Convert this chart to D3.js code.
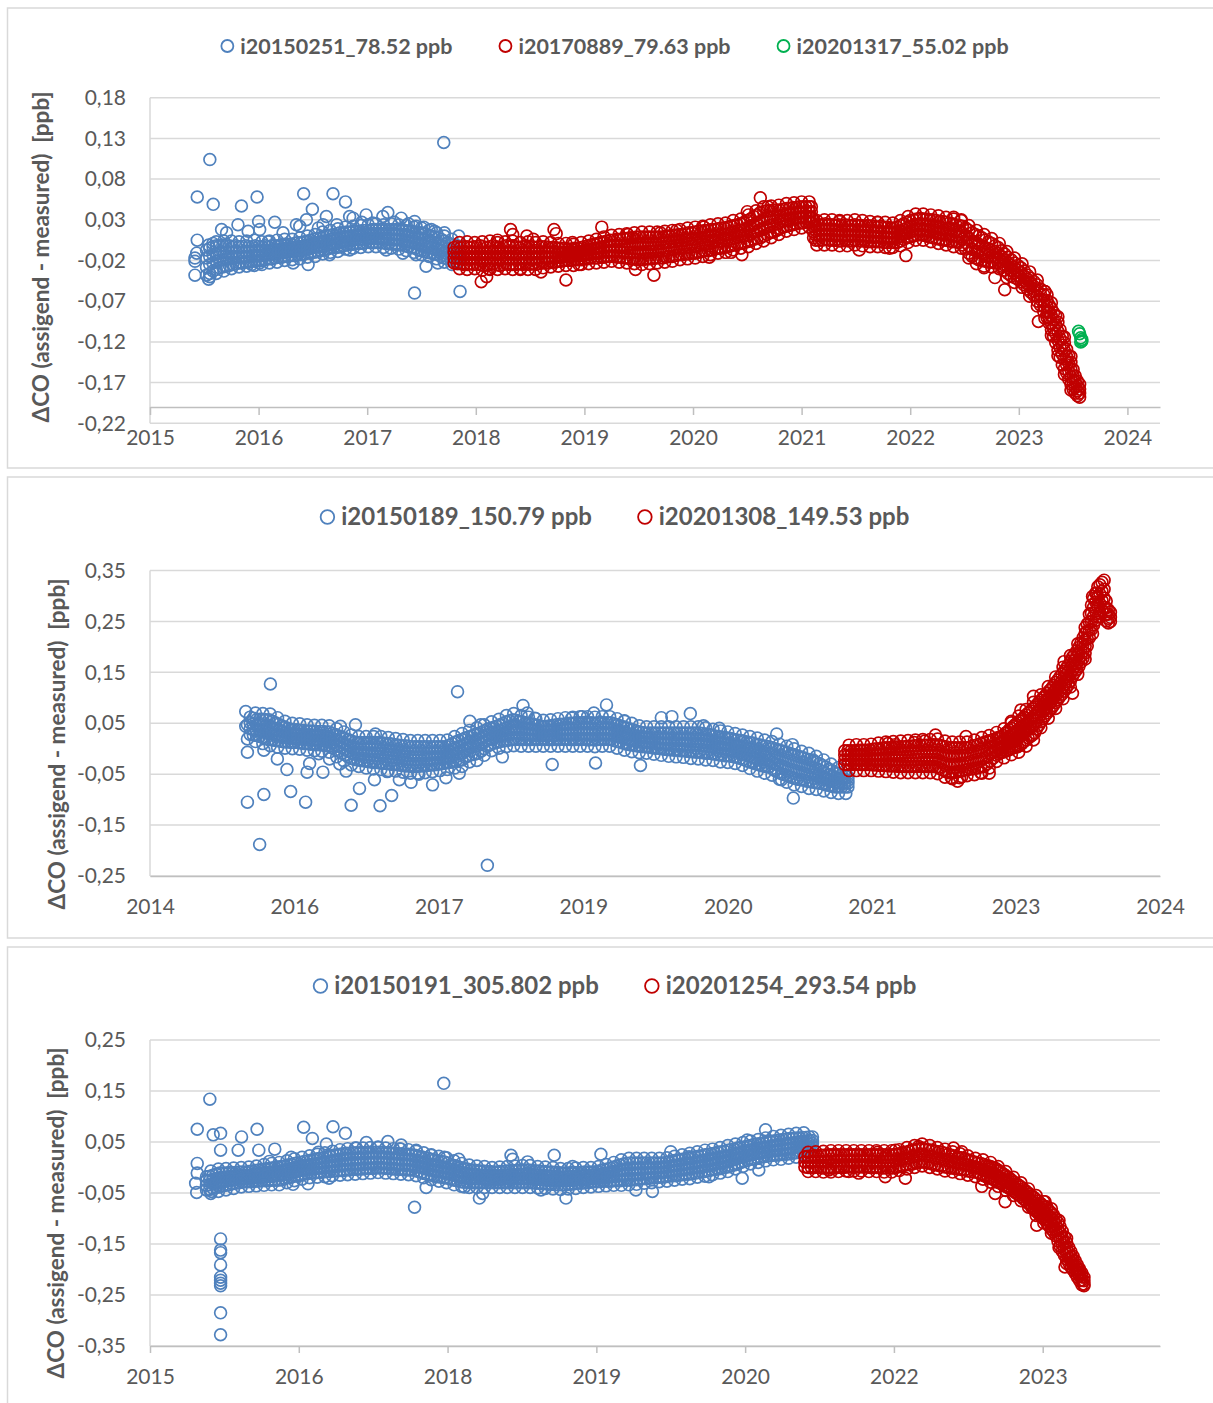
<!DOCTYPE html>
<html><head><meta charset="utf-8">
<script src="https://cdn.jsdelivr.net/npm/d3@7"></script>
<style>body{margin:0;background:#fff}svg{display:block}</style>
</head><body><svg id="c" width="1213" height="1403"></svg>
<script>
const FONT = "Lato, 'Open Sans', sans-serif";
const yTitle = "ΔCO (assigend - measured)  [ppb]";
// Rows / Halo: [decimal year, measured values of that date ...]; Out: single [decimal year, value] readings

// ---------- Panel 1 ----------
const p1Names = ["i20150251_78.52 ppb", "i20170889_79.63 ppb", "i20201317_55.02 ppb"];
const p1XTicks = [2015, 2016, 2017, 2018, 2019, 2020, 2021, 2022, 2023, 2024];
const p1XLabels = ["2015","2016","2017","2018","2019","2020","2021","2022","2023","2024"];
const p1YTicks = [0.18, 0.13, 0.08, 0.03, -0.02, -0.07, -0.12, -0.17, -0.22];
const p1YLabels = ["0,18","0,13","0,08","0,03","-0,02","-0,07","-0,12","-0,17","-0,22"];
const p1AxisCross = -0.2;
const p1BlueRows = [
[2015.52,-.007,-.017,-.028,-.038],[2015.55,-.005,-.015,-.025,-.036],[2015.58,-.003,-.013,-.023,-.033],[2015.61,-.002,-.012,-.021,-.031],
[2015.64,-.002,-.011,-.020,-.029],[2015.67,-.001,-.010,-.019,-.028],[2015.70,-.002,-.010,-.018,-.027],[2015.73,-.002,-.010,-.018,-.026],
[2015.76,-.003,-.010,-.017,-.025],[2015.79,-.002,-.009,-.016,-.024],[2015.82,-.003,-.010,-.016,-.023],[2015.85,-.003,-.010,-.016,-.023],
[2015.88,-.002,-.009,-.015,-.022],[2015.91,-.003,-.009,-.015,-.022],[2015.94,-.003,-.009,-.015,-.021],[2015.97,-.002,-.008,-.014,-.021],
[2016.00,-.003,-.009,-.014,-.020],[2016.03,-.003,-.008,-.014,-.020],[2016.06,-.002,-.008,-.013,-.019],[2016.09,-.003,-.008,-.013,-.018],
[2016.12,-.002,-.007,-.012,-.018],[2016.15,-.002,-.007,-.012,-.017],[2016.18,-.002,-.007,-.011,-.016],[2016.21,-.001,-.006,-.010,-.016],
[2016.24,-.001,-.005,-.010,-.015],[2016.27,.000,-.005,-.009,-.015],[2016.30,.000,-.004,-.009,-.014],[2016.33,.001,-.004,-.008,-.014],
[2016.36,.002,-.003,-.008,-.013],[2016.39,.002,-.003,-.008,-.013],[2016.42,.003,-.002,-.007,-.012],[2016.45,.004,-.001,-.006,-.011],
[2016.48,.005,.000,-.005,-.010],[2016.51,.006,.001,-.004,-.010],[2016.54,.007,.002,-.003,-.009],[2016.57,.008,.003,-.003,-.008],
[2016.60,.009,.004,-.002,-.007],[2016.63,.010,.005,-.001,-.006],[2016.66,.011,.006,.000,-.005],[2016.69,.012,.007,.000,-.004],
[2016.72,.013,.007,.001,-.004],[2016.75,.014,.008,.002,-.003],[2016.78,.014,.009,.003,-.002],[2016.81,.015,.009,.004,-.001],
[2016.84,.015,.010,.004,.000],[2016.87,.016,.010,.005,.000],[2016.90,.016,.011,.006,.001],[2016.93,.016,.011,.006,.001],
[2016.96,.017,.012,.006,.001],[2016.99,.017,.012,.007,.002],[2017.02,.017,.012,.007,.002],[2017.05,.018,.013,.007,.002],
[2017.08,.018,.013,.007,.002],[2017.11,.018,.013,.007,.002],[2017.14,.018,.013,.007,.002],[2017.17,.018,.013,.007,.001],
[2017.20,.018,.012,.007,.001],[2017.23,.018,.012,.006,.000],[2017.26,.018,.012,.006,.000],[2017.29,.018,.012,.006,-.001],
[2017.32,.018,.012,.005,-.001],[2017.35,.017,.011,.004,-.002],[2017.38,.016,.010,.003,-.003],[2017.41,.016,.009,.002,-.004],
[2017.44,.015,.008,.001,-.005],[2017.47,.014,.007,.000,-.007],[2017.50,.014,.007,-.001,-.008],[2017.53,.013,.006,-.002,-.009],
[2017.56,.011,.004,-.003,-.010],[2017.59,.010,.003,-.004,-.011],[2017.62,.009,.002,-.006,-.012],[2017.65,.008,.000,-.007,-.013],
[2017.68,.006,-.001,-.008,-.015],[2017.71,.004,-.003,-.010,-.017],[2017.74,.002,-.005,-.012,-.018],[2017.77,.000,-.007,-.013,-.019],
[2017.80,-.001,-.008,-.014,-.021],[2017.83,-.002,-.009,-.015,-.022]
];
const p1BlueHalo = [
[2015.54,-.001,-.043],[2015.61,.003,-.036],[2015.68,.004,-.033],[2015.75,.004,-.030],[2015.82,.003,-.028],[2015.89,.004,-.027],
[2015.96,.005,-.026],[2016.03,.003,-.025],[2016.10,.004,-.023],[2016.17,.005,-.022],[2016.24,.006,-.020],[2016.31,.006,-.019],
[2016.38,.008,-.018],[2016.45,.010,-.016],[2016.52,.012,-.015],[2016.59,.015,-.012],[2016.66,.017,-.010],[2016.73,.019,-.009],
[2016.80,.021,-.006],[2016.87,.022,-.005],[2016.94,.023,-.004],[2017.01,.024,-.003],[2017.08,.025,-.003],[2017.15,.024,-.004],
[2017.22,.025,-.005],[2017.29,.024,-.006],[2017.36,.023,-.008],[2017.43,.021,-.010],[2017.50,.020,-.013],[2017.57,.017,-.015],
[2017.64,.014,-.018],[2017.71,.010,-.022],[2017.78,.006,-.025]
];
const p1BlueOut = [
[2015.435,.058],[2015.551,.104],[2015.582,.049],[2015.435,.005],[2015.43,-.011],[2015.414,-.017],[2015.414,-.021],[2015.414,-.038],
[2015.551,-.040],[2015.659,.018],[2015.705,.014],[2015.58,.001],[2015.81,.024],[2015.842,.047],[2015.986,.058],[2016.0,.028],
[2016.01,.018],[2015.904,.016],[2016.149,.027],[2016.225,.014],[2016.088,.003],[2015.935,-.025],[2016.01,-.023],[2016.318,-.023],
[2016.456,-.025],[2016.415,.062],[2016.495,.043],[2016.348,.024],[2016.44,.030],[2016.379,.022],[2016.685,.062],[2016.80,.052],
[2016.624,.034],[2016.593,.024],[2016.654,-.013],[2016.838,.034],[2016.87,.032],[2016.99,.036],[2017.144,.034],[2017.19,.039],
[2017.313,.032],[2017.436,.028],[2017.45,.022],[2017.59,.018],[2017.711,.014],[2017.843,.010],[2016.838,-.007],[2017.175,-.007],
[2017.328,-.011],[2017.45,-.013],[2017.542,-.027],[2017.65,-.023],[2017.436,-.060],[2017.855,-.058],[2017.705,.125],
[2016.55,.020],[2016.72,.024],[2016.95,.027],[2017.05,.026],[2017.25,.027],[2017.38,.025],[2017.52,.021],[2017.62,.016]
];
const p1RedRows = [
[2017.80,-.004,-.010,-.017,-.023],[2017.83,-.003,-.010,-.017,-.024],[2017.86,-.004,-.011,-.018,-.024],[2017.89,-.003,-.010,-.017,-.025],
[2017.92,-.003,-.010,-.018,-.025],[2017.95,-.004,-.011,-.018,-.024],[2017.98,-.003,-.010,-.017,-.025],[2018.01,-.003,-.010,-.018,-.025],
[2018.04,-.002,-.010,-.017,-.025],[2018.07,-.003,-.011,-.018,-.026],[2018.10,-.004,-.011,-.018,-.025],[2018.13,-.003,-.010,-.018,-.025],
[2018.16,-.002,-.010,-.017,-.024],[2018.19,-.003,-.011,-.018,-.025],[2018.22,-.004,-.011,-.019,-.026],[2018.25,-.003,-.010,-.018,-.025],
[2018.28,-.002,-.010,-.017,-.024],[2018.31,-.003,-.010,-.018,-.025],[2018.34,-.002,-.010,-.017,-.025],[2018.37,-.003,-.011,-.018,-.025],
[2018.40,-.004,-.011,-.018,-.024],[2018.43,-.003,-.010,-.017,-.025],[2018.46,-.002,-.010,-.017,-.024],[2018.49,-.003,-.010,-.018,-.025],
[2018.52,-.003,-.010,-.017,-.024],[2018.55,-.004,-.011,-.018,-.025],[2018.58,-.003,-.010,-.017,-.024],[2018.61,-.003,-.010,-.017,-.023],
[2018.64,-.003,-.010,-.016,-.023],[2018.67,-.004,-.010,-.017,-.023],[2018.70,-.004,-.010,-.016,-.022],[2018.73,-.004,-.010,-.016,-.022],
[2018.76,-.005,-.010,-.016,-.021],[2018.79,-.005,-.011,-.016,-.021],[2018.82,-.005,-.010,-.015,-.020],[2018.85,-.006,-.011,-.015,-.020],
[2018.88,-.006,-.010,-.015,-.020],[2018.91,-.005,-.010,-.014,-.019],[2018.94,-.005,-.010,-.014,-.019],[2018.97,-.004,-.009,-.014,-.019],
[2019.00,-.003,-.008,-.013,-.018],[2019.03,-.002,-.007,-.012,-.018],[2019.06,-.001,-.006,-.012,-.017],[2019.09,.000,-.005,-.011,-.017],
[2019.12,.001,-.005,-.011,-.017],[2019.15,.002,-.004,-.010,-.016],[2019.18,.003,-.003,-.009,-.016],[2019.21,.004,-.002,-.009,-.015],
[2019.24,.005,-.002,-.008,-.015],[2019.27,.005,-.002,-.009,-.015],[2019.30,.006,-.002,-.009,-.016],[2019.33,.006,-.002,-.009,-.016],
[2019.36,.007,-.002,-.010,-.017],[2019.39,.007,-.002,-.010,-.017],[2019.42,.008,-.001,-.010,-.018],[2019.45,.008,-.001,-.010,-.018],
[2019.48,.009,.000,-.010,-.019],[2019.51,.009,.000,-.010,-.019],[2019.54,.009,.000,-.010,-.019],[2019.57,.009,.000,-.009,-.018],
[2019.60,.009,.000,-.009,-.018],[2019.63,.009,.000,-.009,-.018],[2019.66,.009,.000,-.008,-.017],[2019.69,.009,.001,-.008,-.017],
[2019.72,.009,.001,-.008,-.017],[2019.75,.010,.002,-.007,-.016],[2019.78,.010,.002,-.006,-.015],[2019.81,.011,.003,-.006,-.015],
[2019.84,.011,.003,-.005,-.014],[2019.87,.012,.004,-.005,-.013],[2019.90,.012,.004,-.004,-.013],[2019.93,.013,.005,-.004,-.012],
[2019.96,.014,.006,-.003,-.012],[2019.99,.014,.006,-.002,-.011],[2020.02,.015,.006,-.002,-.011],[2020.05,.016,.007,-.001,-.010],
[2020.08,.016,.008,.000,-.009],[2020.11,.017,.009,.000,-.008],[2020.14,.017,.009,.001,-.008],[2020.17,.018,.010,.002,-.007],
[2020.20,.018,.010,.003,-.006],[2020.23,.019,.011,.003,-.005],[2020.26,.020,.012,.004,-.005],[2020.29,.020,.012,.005,-.004],
[2020.32,.021,.013,.006,-.003],[2020.35,.022,.014,.007,-.002],[2020.38,.023,.015,.008,-.001],[2020.41,.024,.016,.009,.000],
[2020.44,.025,.017,.010,.001],[2020.47,.027,.018,.010,.002],[2020.50,.029,.020,.011,.003],[2020.53,.031,.022,.012,.004],
[2020.56,.034,.024,.015,.006],[2020.59,.036,.026,.016,.007],[2020.62,.039,.028,.018,.008],[2020.65,.040,.030,.020,.010],
[2020.68,.041,.031,.021,.012],[2020.71,.041,.032,.023,.014],[2020.74,.042,.033,.024,.015],[2020.77,.042,.034,.025,.017],
[2020.80,.042,.035,.027,.019],[2020.83,.043,.036,.028,.021],[2020.86,.044,.037,.029,.022],[2020.89,.044,.037,.030,.023],
[2020.92,.045,.038,.031,.024],[2020.95,.045,.039,.032,.025],[2020.98,.046,.039,.033,.026],[2021.01,.046,.039,.033,.026],
[2021.04,.046,.040,.033,.027],[2021.07,.046,.040,.034,.027],[2021.09,.046,.040,.033,.027],[2021.11,.030,.022,.015,.008],
[2021.13,.023,.017,.011,.005],[2021.16,.024,.018,.011,.005],[2021.19,.024,.018,.011,.005],[2021.22,.025,.018,.012,.006],
[2021.25,.024,.018,.011,.005],[2021.28,.024,.018,.011,.005],[2021.31,.023,.017,.011,.005],[2021.34,.024,.017,.011,.004],
[2021.37,.023,.017,.010,.004],[2021.40,.024,.017,.011,.005],[2021.43,.023,.017,.010,.004],[2021.46,.023,.017,.010,.004],
[2021.49,.024,.017,.011,.005],[2021.52,.023,.016,.010,.004],[2021.55,.023,.016,.010,.004],[2021.58,.022,.016,.010,.004],
[2021.61,.023,.016,.010,.003],[2021.64,.022,.016,.009,.003],[2021.67,.022,.015,.009,.003],[2021.70,.021,.015,.009,.003],
[2021.73,.022,.015,.009,.003],[2021.76,.021,.015,.008,.002],[2021.79,.021,.014,.008,.002],[2021.82,.020,.014,.008,.002],
[2021.85,.020,.014,.008,.002],[2021.88,.021,.015,.008,.002],[2021.91,.023,.016,.010,.004],[2021.94,.025,.018,.012,.006],
[2021.97,.027,.020,.014,.008],[2022.00,.029,.022,.015,.009],[2022.03,.030,.023,.017,.010],[2022.06,.031,.024,.018,.011],
[2022.09,.032,.025,.018,.012],[2022.12,.031,.024,.017,.011],[2022.15,.031,.024,.017,.010],[2022.18,.030,.023,.016,.009],
[2022.21,.030,.022,.015,.008],[2022.24,.029,.022,.014,.007],[2022.27,.028,.021,.013,.006],[2022.30,.028,.020,.013,.005],
[2022.33,.027,.019,.012,.005],[2022.36,.026,.019,.011,.004],[2022.39,.025,.018,.010,.003],[2022.42,.024,.017,.010,.003],
[2022.45,.023,.016,.009,.002],[2022.48,.022,.014,.006,-.001],[2022.51,.020,.011,.002,-.006],[2022.54,.017,.008,-.002,-.011],
[2022.57,.014,.004,-.006,-.015],[2022.60,.012,.002,-.008,-.017],[2022.63,.010,.000,-.009,-.019],[2022.66,.008,-.002,-.011,-.020],
[2022.69,.005,-.004,-.012,-.021],[2022.72,.003,-.006,-.014,-.022],[2022.75,.001,-.007,-.015,-.022],[2022.78,-.002,-.009,-.016,-.023],
[2022.81,-.004,-.011,-.017,-.023],[2022.84,-.008,-.015,-.021,-.027],[2022.87,-.012,-.019,-.026,-.032],[2022.90,-.016,-.023,-.029,-.036],
[2022.93,-.019,-.026,-.032,-.039],[2022.96,-.023,-.029,-.035,-.041],[2022.99,-.026,-.032,-.038,-.043],[2023.02,-.029,-.035,-.041,-.046],
[2023.05,-.033,-.039,-.045,-.050],[2023.08,-.038,-.043,-.049,-.055],[2023.11,-.042,-.047,-.053,-.059],[2023.14,-.046,-.052,-.058,-.063],
[2023.17,-.050,-.057,-.064,-.070],[2023.20,-.055,-.062,-.068,-.075],[2023.23,-.062,-.069,-.076,-.083],[2023.26,-.069,-.076,-.083,-.090],
[2023.28,-.075,-.083,-.090,-.097],[2023.30,-.079,-.088,-.097,-.105],[2023.32,-.084,-.093,-.103,-.113],[2023.34,-.088,-.099,-.110,-.121],
[2023.36,-.096,-.107,-.118,-.130],[2023.38,-.105,-.116,-.127,-.139],[2023.40,-.113,-.124,-.135,-.148],[2023.42,-.121,-.131,-.141,-.153],
[2023.44,-.129,-.138,-.148,-.158],[2023.46,-.137,-.146,-.156,-.166],[2023.48,-.145,-.154,-.163,-.172],[2023.50,-.154,-.162,-.170,-.178],
[2023.52,-.162,-.169,-.176,-.183],[2023.54,-.168,-.174,-.180,-.186],[2023.56,-.172,-.178,-.183,-.188]
];
const p1RedHalo = [
[2017.85,.002,-.030],[2017.92,.003,-.031],[2017.99,.002,-.030],[2018.06,.003,-.032],[2018.13,.004,-.031],[2018.20,.002,-.031],
[2018.27,.003,-.030],[2018.34,.004,-.031],[2018.41,.002,-.030],[2018.48,.003,-.031],[2018.55,.002,-.031],[2018.62,.003,-.029],
[2018.69,.002,-.028],[2018.76,.001,-.027],[2018.83,.001,-.026],[2018.90,.000,-.026],[2018.97,.002,-.025],[2019.04,.004,-.024],
[2019.11,.006,-.023],[2019.18,.009,-.022],[2019.25,.011,-.021],[2019.32,.012,-.022],[2019.39,.013,-.023],[2019.46,.014,-.024],
[2019.53,.015,-.025],[2019.60,.015,-.024],[2019.67,.015,-.023],[2019.74,.016,-.022],[2019.81,.017,-.021],[2019.88,.018,-.019],
[2019.95,.020,-.018],[2020.02,.021,-.017],[2020.09,.022,-.015],[2020.16,.024,-.013],[2020.23,.025,-.011],[2020.30,.026,-.010],
[2020.37,.029,-.007],[2020.44,.031,-.005],[2020.51,.036,-.003],[2020.58,.041,.001],[2020.65,.046,.004],[2020.72,.047,.008],
[2020.79,.048,.012],[2020.86,.050,.016],[2020.93,.051,.018],[2021.00,.052,.020],[2021.07,.052,.021],[2021.14,.029,-.001],
[2021.21,.030,-.001],[2021.28,.030,-.001],[2021.35,.029,-.002],[2021.42,.029,-.002],[2021.49,.030,-.001],[2021.56,.029,-.002],
[2021.63,.028,-.003],[2021.70,.027,-.003],[2021.77,.027,-.004],[2021.84,.026,-.004],[2021.91,.029,-.002],[2021.98,.034,.002],
[2022.05,.037,.005],[2022.12,.037,.005],[2022.19,.036,.003],[2022.26,.035,.001],[2022.33,.033,-.001],[2022.40,.031,-.003],
[2022.47,.029,-.005],[2022.54,.023,-.017],[2022.61,.017,-.024],[2022.68,.012,-.027],[2022.75,.007,-.028],[2022.82,.001,-.030],
[2022.89,-.009,-.041],[2022.96,-.017,-.047],[2023.03,-.024,-.053],[2023.10,-.034,-.064],[2023.17,-.044,-.076],[2023.24,-.058,-.091],
[2023.30,-.072,-.112],[2023.36,-.089,-.137],[2023.42,-.114,-.160],[2023.48,-.138,-.179]
];
const p1RedOut = [
[2018.32,.018],[2018.34,.012],[2018.47,.010],[2018.72,.018],[2018.74,.013],[2018.89,.002],[2019.16,.021],[2018.05,-.046],
[2018.10,-.040],[2018.60,-.034],[2018.83,-.044],[2019.47,-.031],[2019.64,-.038],[2020.45,-.013],[2020.62,.057],[2020.50,.040],
[2020.15,-.016],[2020.69,.046],[2021.96,-.014],[2022.47,.030],[2022.40,.033],[2022.68,-.029],[2022.78,-.041],[2022.87,-.056],
[2023.18,-.095],[2023.24,-.058],[2023.26,-.062],[2021.53,-.007],[2021.81,-.005],[2018.20,.005],[2018.53,.006],[2019.85,.017],
[2020.35,-.010],[2018.12,-.030],[2018.41,-.031],[2018.95,-.025],[2019.40,.012],[2019.70,.014],[2020.10,.021],[2021.35,.028],[2021.70,.027]
];
const p1Green = [[2023.55,-.107],[2023.57,-.115],[2023.58,-.117],[2023.57,-.120],[2023.56,-.110],[2023.58,-.119]];

// ---------- Panel 2 ----------
const p2Names = ["i20150189_150.79 ppb", "i20201308_149.53 ppb"];
const p2XTicks = [2014.95, 2016.32, 2017.69, 2019.06, 2020.43, 2021.80, 2023.16, 2024.53];
const p2XLabels = ["2014","2016","2017","2019","2020","2021","2023","2024"];
const p2YTicks = [0.35, 0.25, 0.15, 0.05, -0.05, -0.15, -0.25];
const p2YLabels = ["0,35","0,25","0,15","0,05","-0,05","-0,15","-0,25"];
const p2AxisCross = -0.25;
const p2BlueRows = [
[2015.90,.062,.051,.039,.028],[2015.93,.060,.049,.038,.027],[2015.96,.057,.047,.036,.026],[2015.99,.058,.047,.035,.024],
[2016.02,.058,.046,.034,.022],[2016.05,.057,.045,.032,.020],[2016.08,.057,.044,.031,.018],[2016.11,.054,.042,.029,.017],
[2016.14,.051,.039,.028,.016],[2016.17,.048,.037,.026,.015],[2016.20,.045,.035,.024,.014],[2016.23,.042,.032,.023,.013],
[2016.26,.040,.030,.022,.013],[2016.29,.038,.029,.021,.012],[2016.32,.037,.029,.020,.012],[2016.35,.037,.028,.020,.012],
[2016.38,.036,.028,.019,.011],[2016.41,.036,.027,.019,.010],[2016.44,.035,.027,.018,.010],[2016.47,.035,.026,.018,.009],
[2016.50,.035,.026,.017,.009],[2016.53,.034,.025,.017,.008],[2016.56,.034,.025,.016,.008],[2016.59,.034,.025,.016,.007],
[2016.62,.033,.024,.015,.006],[2016.65,.033,.024,.015,.006],[2016.68,.030,.021,.011,.002],[2016.71,.028,.018,.008,-.002],
[2016.74,.025,.015,.005,-.005],[2016.77,.023,.012,.002,-.009],[2016.80,.020,.009,-.002,-.012],[2016.83,.018,.007,-.005,-.016],
[2016.86,.015,.004,-.008,-.019],[2016.89,.013,.002,-.010,-.021],[2016.92,.012,.001,-.011,-.022],[2016.95,.012,.000,-.011,-.023],
[2016.98,.012,.000,-.012,-.024],[2017.01,.012,.000,-.012,-.025],[2017.04,.012,.000,-.013,-.026],[2017.07,.012,-.001,-.014,-.027],
[2017.10,.012,-.001,-.014,-.027],[2017.13,.012,-.001,-.015,-.028],[2017.16,.011,-.002,-.015,-.029],[2017.19,.010,-.003,-.016,-.029],
[2017.22,.010,-.003,-.017,-.030],[2017.25,.009,-.004,-.017,-.031],[2017.28,.008,-.005,-.018,-.031],[2017.31,.007,-.006,-.019,-.032],
[2017.34,.006,-.007,-.020,-.033],[2017.37,.006,-.007,-.021,-.034],[2017.40,.005,-.008,-.021,-.034],[2017.43,.004,-.009,-.022,-.035],
[2017.46,.004,-.009,-.022,-.035],[2017.49,.004,-.009,-.022,-.035],[2017.52,.004,-.009,-.022,-.034],[2017.55,.004,-.009,-.021,-.034],
[2017.58,.004,-.009,-.021,-.033],[2017.61,.004,-.008,-.020,-.032],[2017.64,.004,-.008,-.020,-.032],[2017.67,.004,-.008,-.019,-.031],
[2017.70,.004,-.007,-.019,-.030],[2017.73,.004,-.007,-.018,-.029],[2017.76,.004,-.007,-.017,-.028],[2017.79,.007,-.004,-.015,-.027],
[2017.82,.010,-.001,-.013,-.026],[2017.85,.013,.001,-.011,-.024],[2017.88,.016,.004,-.009,-.023],[2017.91,.018,.005,-.009,-.022],
[2017.94,.021,.009,-.004,-.017],[2017.97,.023,.012,.000,-.014],[2018.00,.025,.014,.003,-.012],[2018.03,.028,.016,.005,-.011],
[2018.06,.030,.018,.006,-.009],[2018.09,.032,.021,.010,-.005],[2018.12,.035,.024,.013,.000],[2018.15,.038,.027,.017,.005],
[2018.18,.040,.030,.020,.008],[2018.21,.042,.032,.022,.011],[2018.24,.044,.034,.024,.012],[2018.27,.047,.036,.025,.014],
[2018.30,.050,.038,.027,.015],[2018.33,.053,.040,.028,.016],[2018.36,.055,.042,.030,.017],[2018.39,.057,.044,.031,.018],
[2018.42,.056,.043,.031,.018],[2018.45,.054,.042,.030,.018],[2018.48,.053,.041,.030,.018],[2018.51,.051,.040,.029,.018],
[2018.54,.050,.039,.028,.018],[2018.57,.049,.038,.028,.018],[2018.60,.047,.037,.027,.018],[2018.63,.046,.036,.027,.018],
[2018.66,.044,.035,.026,.018],[2018.69,.043,.034,.026,.018],[2018.72,.044,.035,.026,.018],[2018.75,.045,.036,.027,.018],
[2018.78,.046,.037,.027,.018],[2018.81,.047,.037,.027,.018],[2018.84,.048,.038,.028,.018],[2018.87,.048,.038,.028,.018],
[2018.90,.049,.039,.028,.018],[2018.93,.050,.039,.028,.018],[2018.96,.050,.039,.029,.018],[2018.99,.051,.040,.029,.018],
[2019.02,.051,.040,.029,.018],[2019.05,.051,.040,.029,.018],[2019.08,.052,.041,.029,.018],[2019.11,.051,.040,.029,.017],
[2019.14,.051,.040,.029,.018],[2019.17,.050,.039,.028,.017],[2019.20,.051,.040,.029,.018],[2019.23,.052,.041,.029,.018],
[2019.26,.051,.040,.029,.018],[2019.29,.051,.040,.029,.018],[2019.32,.051,.040,.029,.018],[2019.35,.049,.038,.027,.016],
[2019.38,.047,.036,.025,.014],[2019.41,.045,.034,.024,.013],[2019.44,.043,.032,.022,.011],[2019.47,.041,.030,.020,.009],
[2019.50,.039,.028,.018,.008],[2019.53,.037,.026,.016,.007],[2019.56,.035,.025,.015,.006],[2019.59,.033,.023,.014,.005],
[2019.62,.032,.022,.013,.004],[2019.65,.031,.022,.013,.004],[2019.68,.031,.021,.012,.003],[2019.71,.031,.021,.012,.002],
[2019.74,.031,.021,.011,.001],[2019.77,.031,.021,.011,.001],[2019.80,.031,.021,.010,.000],[2019.83,.031,.020,.010,-.001],
[2019.86,.031,.020,.009,-.002],[2019.89,.031,.020,.009,-.002],[2019.92,.031,.020,.009,-.003],[2019.95,.031,.020,.009,-.003],
[2019.98,.031,.020,.008,-.004],[2020.01,.031,.019,.008,-.004],[2020.04,.031,.019,.008,-.005],[2020.07,.031,.019,.007,-.006],
[2020.10,.031,.019,.007,-.006],[2020.13,.031,.019,.007,-.007],[2020.16,.031,.019,.006,-.007],[2020.19,.030,.018,.006,-.008],
[2020.22,.029,.017,.005,-.009],[2020.25,.028,.016,.004,-.009],[2020.28,.027,.015,.003,-.010],[2020.31,.025,.014,.002,-.011],
[2020.34,.024,.012,.001,-.012],[2020.37,.023,.011,.000,-.013],[2020.40,.022,.010,-.001,-.014],[2020.43,.021,.009,-.002,-.014],
[2020.46,.020,.008,-.003,-.015],[2020.49,.018,.007,-.005,-.016],[2020.52,.017,.005,-.006,-.017],[2020.55,.016,.004,-.008,-.019],
[2020.58,.015,.002,-.010,-.021],[2020.61,.013,.000,-.012,-.024],[2020.64,.012,-.001,-.014,-.026],[2020.67,.011,-.003,-.016,-.028],
[2020.70,.009,-.004,-.018,-.030],[2020.73,.008,-.006,-.019,-.032],[2020.76,.006,-.007,-.021,-.034],[2020.79,.005,-.009,-.022,-.035],
[2020.82,.004,-.010,-.023,-.036],[2020.85,.002,-.012,-.026,-.039],[2020.88,.000,-.015,-.029,-.043],[2020.91,-.002,-.017,-.031,-.046],
[2020.94,-.004,-.019,-.034,-.049],[2020.97,-.006,-.021,-.036,-.051],[2021.00,-.008,-.023,-.039,-.054],[2021.03,-.010,-.025,-.041,-.056],
[2021.06,-.012,-.027,-.043,-.058],[2021.09,-.014,-.029,-.045,-.060],[2021.12,-.016,-.031,-.046,-.061],[2021.15,-.018,-.033,-.048,-.062],
[2021.18,-.020,-.035,-.050,-.064],[2021.21,-.022,-.037,-.051,-.065],[2021.24,-.024,-.038,-.052,-.066],[2021.27,-.027,-.040,-.054,-.067],
[2021.30,-.029,-.042,-.055,-.068],[2021.33,-.033,-.045,-.057,-.069],[2021.36,-.036,-.048,-.059,-.071],[2021.39,-.040,-.051,-.062,-.072],
[2021.42,-.043,-.053,-.064,-.074],[2021.45,-.047,-.056,-.066,-.075],[2021.48,-.049,-.058,-.067,-.075],[2021.51,-.051,-.059,-.067,-.075],
[2021.54,-.053,-.060,-.068,-.075],[2021.57,-.055,-.062,-.068,-.075]
];
const p2BlueHalo = [
[2015.95,.070,.014],[2016.02,.069,.010],[2016.09,.068,.006],[2016.16,.061,.003],[2016.23,.054,.001],[2016.30,.050,.000],
[2016.37,.049,-.001],[2016.44,.047,-.003],[2016.51,.046,-.004],[2016.58,.046,-.005],[2016.65,.045,-.007],[2016.72,.039,-.016],
[2016.79,.033,-.024],[2016.86,.027,-.032],[2016.93,.024,-.035],[2017.00,.024,-.038],[2017.07,.024,-.040],[2017.14,.024,-.041],
[2017.21,.022,-.043],[2017.28,.020,-.044],[2017.35,.018,-.046],[2017.42,.016,-.048],[2017.49,.016,-.048],[2017.56,.016,-.047],
[2017.63,.016,-.045],[2017.70,.016,-.043],[2017.77,.017,-.041],[2017.84,.024,-.038],[2017.91,.030,-.035],[2017.98,.036,-.026],
[2018.05,.041,-.023],[2018.12,.047,-.013],[2018.19,.053,-.004],[2018.26,.058,.001],[2018.33,.065,.004],[2018.40,.069,.006],
[2018.47,.065,.005],[2018.54,.062,.005],[2018.61,.059,.005],[2018.68,.056,.005],[2018.75,.057,.005],[2018.82,.059,.005],
[2018.89,.061,.005],[2018.96,.062,.005],[2019.03,.063,.005],[2019.10,.063,.005],[2019.17,.062,.004],[2019.24,.063,.005],
[2019.31,.063,.005],[2019.38,.059,.001],[2019.45,.054,-.003],[2019.52,.050,-.006],[2019.59,.045,-.008],[2019.66,.043,-.009],
[2019.73,.043,-.011],[2019.80,.043,-.013],[2019.87,.043,-.015],[2019.94,.043,-.016],[2020.01,.043,-.017],[2020.08,.043,-.019],
[2020.15,.043,-.020],[2020.22,.041,-.022],[2020.29,.038,-.023],[2020.36,.035,-.026],[2020.43,.033,-.027],[2020.50,.030,-.029],
[2020.57,.027,-.033],[2020.64,.024,-.039],[2020.71,.021,-.044],[2020.78,.017,-.048],[2020.85,.014,-.052],[2020.92,.009,-.060],
[2020.99,.005,-.066],[2021.06,.000,-.071],[2021.13,-.005,-.074],[2021.20,-.009,-.078],[2021.27,-.015,-.080],[2021.34,-.022,-.083],
[2021.41,-.030,-.086],[2021.48,-.037,-.088],[2021.55,-.042,-.088]
];
const p2BlueOut = [
[2016.092,.127],[2017.867,.112],[2015.99,-.188],[2018.15,-.229],[2015.874,-.105],[2016.03,-.090],[2016.284,-.084],[2016.426,-.105],
[2016.858,-.111],[2017.132,-.112],[2017.242,-.092],[2016.937,-.078],[2015.874,-.007],[2015.874,.019],[2015.858,.073],[2015.858,.044],
[2015.874,.047],[2016.03,-.003],[2016.158,-.020],[2016.249,-.041],[2016.44,-.046],[2016.59,-.046],[2016.464,-.029],[2016.653,-.020],
[2016.756,.044],[2016.899,.047],[2017.088,.029],[2016.81,-.044],[2017.079,-.061],[2017.315,-.061],[2017.426,-.066],[2017.63,-.071],
[2017.757,-.057],[2017.883,-.048],[2017.984,.054],[2018.087,.047],[2018.488,.085],[2018.529,.070],[2019.28,.086],[2019.16,.070],
[2019.05,.063],[2018.765,-.031],[2019.176,-.028],[2019.602,-.033],[2018.292,-.016],[2019.90,.063],[2020.075,.069],[2020.894,.029],
[2021.043,.008],[2021.052,-.097],[2021.24,-.022],[2020.94,-.061],[2020.20,.045],[2020.35,.040],[2019.80,.061],
[2016.55,-.010],[2016.75,-.030],[2017.20,-.045],[2017.50,-.050],[2018.60,.060],[2018.95,.060],[2019.45,.055]
];
const p2RedRows = [
[2021.54,-.004,-.013,-.022,-.031],[2021.57,-.004,-.013,-.022,-.031],[2021.60,-.004,-.013,-.022,-.031],[2021.63,-.004,-.013,-.022,-.031],
[2021.66,-.003,-.012,-.022,-.031],[2021.69,-.003,-.012,-.022,-.031],[2021.72,-.003,-.012,-.022,-.031],[2021.75,-.003,-.012,-.022,-.031],
[2021.78,-.002,-.012,-.022,-.031],[2021.81,-.001,-.012,-.022,-.032],[2021.84,.000,-.011,-.022,-.032],[2021.87,.000,-.011,-.022,-.033],
[2021.90,.001,-.011,-.022,-.033],[2021.93,.002,-.010,-.022,-.033],[2021.96,.002,-.010,-.022,-.034],[2021.99,.003,-.010,-.022,-.034],
[2022.02,.003,-.010,-.022,-.034],[2022.05,.004,-.009,-.022,-.035],[2022.08,.004,-.009,-.022,-.035],[2022.11,.004,-.009,-.022,-.035],
[2022.14,.005,-.008,-.022,-.035],[2022.17,.005,-.008,-.022,-.035],[2022.20,.006,-.008,-.021,-.035],[2022.23,.006,-.008,-.021,-.035],
[2022.26,.006,-.008,-.021,-.035],[2022.29,.007,-.007,-.021,-.035],[2022.32,.007,-.007,-.021,-.035],[2022.35,.007,-.007,-.021,-.035],
[2022.38,.008,-.007,-.021,-.035],[2022.41,.008,-.007,-.021,-.036],[2022.44,.007,-.009,-.024,-.039],[2022.47,.005,-.011,-.027,-.042],
[2022.50,.004,-.013,-.029,-.045],[2022.53,.002,-.014,-.031,-.047],[2022.56,.002,-.015,-.031,-.047],[2022.59,.002,-.014,-.031,-.046],
[2022.62,.002,-.014,-.030,-.045],[2022.65,.002,-.013,-.029,-.044],[2022.68,.002,-.013,-.028,-.042],[2022.71,.002,-.012,-.027,-.041],
[2022.74,.004,-.010,-.025,-.040],[2022.77,.006,-.008,-.023,-.039],[2022.80,.008,-.007,-.021,-.038],[2022.83,.010,-.005,-.020,-.036],
[2022.86,.012,-.004,-.019,-.035],[2022.89,.014,-.001,-.015,-.030],[2022.92,.016,.002,-.011,-.024],[2022.95,.018,.005,-.007,-.018],
[2022.98,.021,.008,-.004,-.013],[2023.00,.022,.010,-.002,-.010],[2023.02,.023,.013,.002,-.008],[2023.04,.026,.015,.004,-.007],
[2023.06,.030,.018,.006,-.005],[2023.08,.033,.021,.009,-.004],[2023.10,.037,.024,.011,-.002],[2023.12,.040,.027,.013,.000],
[2023.14,.044,.030,.016,.002],[2023.16,.048,.033,.018,.003],[2023.18,.051,.036,.020,.004],[2023.20,.055,.040,.024,.007],
[2023.22,.058,.043,.027,.010],[2023.24,.062,.047,.031,.014],[2023.26,.066,.050,.034,.017],[2023.28,.070,.054,.038,.021],
[2023.30,.074,.058,.041,.024],[2023.32,.078,.061,.044,.027],[2023.34,.082,.065,.048,.031],[2023.36,.086,.071,.055,.039],
[2023.38,.091,.076,.061,.046],[2023.40,.095,.081,.067,.053],[2023.42,.100,.086,.073,.059],[2023.44,.104,.091,.078,.065],
[2023.46,.109,.096,.083,.070],[2023.48,.114,.101,.088,.075],[2023.50,.118,.105,.092,.079],[2023.52,.124,.111,.098,.085],
[2023.54,.130,.117,.104,.091],[2023.56,.135,.122,.109,.096],[2023.58,.141,.128,.115,.102],[2023.60,.146,.133,.120,.107],
[2023.62,.152,.139,.126,.113],[2023.64,.158,.145,.132,.119],[2023.66,.164,.151,.138,.125],[2023.68,.172,.159,.146,.133],
[2023.70,.180,.167,.155,.142],[2023.72,.186,.174,.161,.149],[2023.74,.192,.180,.167,.155],[2023.76,.199,.187,.174,.161],
[2023.78,.208,.195,.182,.170],[2023.80,.218,.205,.191,.178],[2023.82,.227,.214,.201,.188],[2023.84,.245,.231,.216,.202],
[2023.86,.264,.249,.233,.218],[2023.88,.282,.266,.250,.234],[2023.90,.295,.278,.260,.243],[2023.92,.306,.288,.270,.252],
[2023.94,.318,.298,.279,.259],[2023.96,.322,.304,.285,.266],[2023.98,.327,.309,.291,.272],[2024.00,.331,.313,.296,.278],
[2024.02,.290,.277,.264,.251],[2024.04,.273,.264,.256,.247],[2024.06,.268,.258,.250]
];
const p2RedHalo = [
[2021.58,.007,-.043],[2021.65,.008,-.043],[2021.72,.008,-.043],[2021.79,.009,-.043],[2021.86,.011,-.044],[2021.93,.013,-.045],
[2022.00,.014,-.046],[2022.07,.015,-.047],[2022.14,.016,-.047],[2022.21,.017,-.047],[2022.28,.018,-.047],[2022.35,.018,-.047],
[2022.42,.019,-.049],[2022.49,.015,-.056],[2022.56,.013,-.059],[2022.63,.013,-.057],[2022.70,.013,-.053],[2022.77,.017,-.051],
[2022.84,.022,-.048],[2022.91,.026,-.038],[2022.98,.032,-.025],[2023.05,.039,-.018],[2023.12,.051,-.012],[2023.19,.064,-.007],
[2023.26,.077,.005],[2023.33,.091,.017],[2023.40,.106,.041],[2023.47,.122,.060],[2023.54,.141,.079],[2023.61,.160,.098],
[2023.68,.183,.121],[2023.75,.206,.146],[2023.82,.238,.176],[2023.89,.299,.226]
];
const p2RedOut = [
[2022.40,.027],[2022.55,-.057],[2022.61,-.064],[2022.83,-.047],[2022.91,-.048],[2023.33,.103],[2023.62,.171],[2023.70,.109],
[2023.12,.054],[2023.21,.076],[2021.95,.010],[2022.20,.012],[2022.69,.024],[2023.93,.305],[2022.02,.008],[2022.30,.015],[2022.65,-.055]
];

// ---------- Panel 3 ----------
const p3Names = ["i20150191_305.802 ppb", "i20201254_293.54 ppb"];
const p3XTicks = [2015.30, 2016.67, 2018.04, 2019.41, 2020.78, 2022.15, 2023.52];
const p3XLabels = ["2015","2016","2018","2019","2020","2022","2023"];
const p3YTicks = [0.25, 0.15, 0.05, -0.05, -0.15, -0.25, -0.35];
const p3YLabels = ["0,25","0,15","0,05","-0,05","-0,15","-0,25","-0,35"];
const p3AxisCross = -0.35;
const p3BlueRows = [
[2015.82,-.018,-.026,-.035,-.044],[2015.85,-.017,-.025,-.034,-.043],[2015.88,-.015,-.023,-.032,-.041],[2015.91,-.013,-.022,-.030,-.039],
[2015.94,-.011,-.020,-.029,-.038],[2015.97,-.011,-.019,-.028,-.036],[2016.00,-.011,-.019,-.027,-.035],[2016.03,-.010,-.018,-.026,-.034],
[2016.06,-.010,-.017,-.025,-.032],[2016.09,-.010,-.017,-.024,-.031],[2016.12,-.009,-.016,-.023,-.030],[2016.15,-.009,-.016,-.022,-.029],
[2016.18,-.009,-.015,-.022,-.028],[2016.21,-.008,-.015,-.021,-.028],[2016.24,-.007,-.014,-.021,-.028],[2016.27,-.006,-.013,-.020,-.027],
[2016.30,-.005,-.012,-.019,-.027],[2016.33,-.004,-.011,-.019,-.026],[2016.36,-.003,-.010,-.018,-.026],[2016.39,-.002,-.010,-.017,-.026],
[2016.42,-.001,-.009,-.017,-.025],[2016.45,.000,-.008,-.016,-.025],[2016.48,.001,-.008,-.016,-.025],[2016.51,.002,-.007,-.015,-.024],
[2016.54,.003,-.005,-.014,-.022],[2016.57,.005,-.003,-.012,-.020],[2016.60,.006,-.002,-.010,-.019],[2016.63,.008,.000,-.008,-.017],
[2016.66,.009,.001,-.007,-.016],[2016.69,.010,.002,-.006,-.015],[2016.72,.012,.004,-.005,-.013],[2016.75,.013,.005,-.004,-.012],
[2016.78,.014,.006,-.003,-.011],[2016.81,.015,.007,-.002,-.011],[2016.84,.017,.008,-.002,-.010],[2016.87,.018,.009,-.001,-.010],
[2016.90,.019,.010,.000,-.009],[2016.93,.021,.011,.001,-.008],[2016.96,.022,.012,.001,-.008],[2016.99,.024,.013,.002,-.007],
[2017.02,.025,.014,.003,-.007],[2017.05,.026,.015,.004,-.006],[2017.08,.027,.016,.004,-.006],[2017.11,.028,.017,.006,-.005],
[2017.14,.028,.017,.006,-.005],[2017.17,.029,.017,.006,-.004],[2017.20,.029,.018,.007,-.004],[2017.23,.029,.018,.007,-.003],
[2017.26,.029,.018,.007,-.003],[2017.29,.030,.019,.008,-.002],[2017.32,.030,.019,.008,-.002],[2017.35,.030,.019,.009,-.002],
[2017.38,.030,.019,.009,-.001],[2017.41,.030,.020,.009,-.001],[2017.44,.030,.019,.009,-.001],[2017.47,.029,.019,.008,-.002],
[2017.50,.029,.018,.008,-.002],[2017.53,.028,.018,.007,-.003],[2017.56,.028,.017,.007,-.003],[2017.59,.027,.017,.006,-.004],
[2017.62,.027,.016,.006,-.004],[2017.65,.026,.016,.005,-.005],[2017.68,.026,.015,.005,-.005],[2017.71,.025,.015,.005,-.005],
[2017.74,.024,.014,.003,-.006],[2017.77,.022,.012,.001,-.008],[2017.80,.021,.010,.000,-.010],[2017.83,.019,.009,-.002,-.012],
[2017.86,.018,.007,-.004,-.014],[2017.89,.016,.006,-.005,-.015],[2017.92,.015,.004,-.007,-.017],[2017.95,.013,.003,-.008,-.018],
[2017.98,.012,.001,-.009,-.019],[2018.01,.011,.001,-.010,-.020],[2018.04,.009,-.001,-.011,-.021],[2018.07,.006,-.004,-.014,-.023],
[2018.10,.004,-.006,-.015,-.025],[2018.13,.002,-.008,-.017,-.026],[2018.16,.000,-.009,-.019,-.028],[2018.19,-.002,-.011,-.020,-.029],
[2018.22,-.003,-.012,-.021,-.029],[2018.25,-.005,-.013,-.022,-.030],[2018.28,-.005,-.013,-.022,-.030],[2018.31,-.006,-.014,-.022,-.030],
[2018.34,-.007,-.015,-.022,-.030],[2018.37,-.007,-.015,-.023,-.030],[2018.40,-.008,-.015,-.023,-.030],[2018.43,-.008,-.016,-.023,-.030],
[2018.46,-.009,-.016,-.023,-.030],[2018.49,-.009,-.016,-.023,-.030],[2018.52,-.008,-.016,-.023,-.030],[2018.55,-.008,-.015,-.023,-.030],
[2018.58,-.007,-.015,-.022,-.030],[2018.61,-.007,-.015,-.022,-.030],[2018.64,-.006,-.014,-.022,-.030],[2018.67,-.006,-.014,-.022,-.030],
[2018.70,-.005,-.013,-.022,-.030],[2018.73,-.005,-.013,-.022,-.030],[2018.76,-.005,-.013,-.022,-.030],[2018.79,-.005,-.013,-.022,-.030],
[2018.82,-.006,-.014,-.022,-.030],[2018.85,-.007,-.015,-.023,-.031],[2018.88,-.007,-.015,-.023,-.031],[2018.91,-.008,-.016,-.024,-.032],
[2018.94,-.008,-.016,-.024,-.032],[2018.97,-.009,-.017,-.025,-.033],[2019.00,-.009,-.017,-.025,-.033],[2019.03,-.010,-.018,-.026,-.034],
[2019.06,-.010,-.018,-.026,-.034],[2019.09,-.011,-.019,-.026,-.034],[2019.12,-.011,-.019,-.026,-.034],[2019.15,-.011,-.018,-.026,-.033],
[2019.18,-.010,-.018,-.025,-.033],[2019.21,-.010,-.018,-.025,-.032],[2019.24,-.010,-.017,-.024,-.031],[2019.27,-.010,-.017,-.024,-.031],
[2019.30,-.009,-.016,-.023,-.030],[2019.33,-.009,-.016,-.023,-.030],[2019.36,-.009,-.016,-.022,-.029],[2019.39,-.009,-.015,-.022,-.028],
[2019.42,-.008,-.015,-.021,-.028],[2019.45,-.006,-.013,-.020,-.028],[2019.48,-.004,-.012,-.019,-.027],[2019.51,-.003,-.011,-.019,-.027],
[2019.54,-.001,-.009,-.018,-.027],[2019.57,.001,-.008,-.017,-.026],[2019.60,.003,-.007,-.016,-.026],[2019.63,.005,-.005,-.015,-.026],
[2019.66,.007,-.004,-.014,-.025],[2019.69,.008,-.003,-.014,-.025],[2019.72,.009,-.002,-.014,-.025],[2019.75,.009,-.002,-.013,-.024],
[2019.78,.009,-.002,-.013,-.024],[2019.81,.009,-.002,-.013,-.023],[2019.84,.009,-.001,-.012,-.022],[2019.87,.009,-.001,-.011,-.022],
[2019.90,.009,-.001,-.011,-.021],[2019.93,.009,-.001,-.010,-.020],[2019.96,.009,.000,-.010,-.020],[2019.99,.009,.000,-.010,-.019],
[2020.02,.009,.000,-.010,-.019],[2020.05,.010,.001,-.009,-.018],[2020.08,.011,.002,-.008,-.017],[2020.11,.013,.003,-.007,-.016],
[2020.14,.014,.004,-.006,-.016],[2020.17,.015,.005,-.005,-.015],[2020.20,.016,.006,-.004,-.014],[2020.23,.017,.007,-.003,-.013],
[2020.26,.018,.008,-.002,-.013],[2020.29,.020,.009,-.001,-.012],[2020.32,.021,.010,.000,-.011],[2020.35,.022,.011,.001,-.010],
[2020.38,.023,.013,.002,-.009],[2020.41,.025,.014,.003,-.008],[2020.44,.026,.015,.004,-.007],[2020.47,.027,.016,.006,-.005],
[2020.50,.028,.018,.007,-.004],[2020.53,.030,.019,.008,-.003],[2020.56,.031,.020,.009,-.002],[2020.59,.032,.021,.011,.000],
[2020.62,.034,.022,.012,.001],[2020.65,.035,.024,.014,.003],[2020.68,.036,.026,.016,.005],[2020.71,.038,.028,.018,.007],
[2020.74,.039,.029,.020,.010],[2020.77,.040,.031,.021,.012],[2020.80,.042,.032,.023,.014],[2020.83,.043,.034,.025,.016],
[2020.86,.045,.036,.026,.017],[2020.89,.046,.037,.028,.019],[2020.92,.047,.038,.029,.020],[2020.95,.048,.039,.030,.021],
[2020.98,.050,.040,.031,.022],[2021.01,.051,.041,.032,.023],[2021.04,.052,.042,.033,.024],[2021.07,.053,.043,.034,.024],
[2021.10,.054,.044,.035,.025],[2021.13,.055,.045,.036,.026],[2021.16,.056,.046,.036,.026],[2021.19,.057,.047,.037,.027],
[2021.22,.057,.048,.038,.028],[2021.25,.058,.049,.039,.029],[2021.28,.058,.050,.041,.032],[2021.31,.059,.051,.043,.035],
[2021.34,.059,.052,.045,.037],[2021.37,.060,.053,.046,.039],[2021.40,.060,.053,.047,.040]
];
const p3BlueHalo = [
[2015.86,-.007,-.051],[2015.93,-.003,-.047],[2016.00,-.002,-.044],[2016.07,-.001,-.041],[2016.14,.000,-.038],[2016.21,.001,-.037],
[2016.28,.003,-.036],[2016.35,.006,-.035],[2016.42,.008,-.034],[2016.49,.010,-.034],[2016.56,.013,-.030],[2016.63,.017,-.026],
[2016.70,.020,-.023],[2016.77,.023,-.020],[2016.84,.026,-.019],[2016.91,.029,-.018],[2016.98,.032,-.016],[2017.05,.035,-.015],
[2017.12,.037,-.014],[2017.19,.038,-.013],[2017.26,.038,-.012],[2017.33,.039,-.011],[2017.40,.039,-.010],[2017.47,.038,-.011],
[2017.54,.037,-.012],[2017.61,.036,-.013],[2017.68,.035,-.014],[2017.75,.032,-.016],[2017.82,.029,-.020],[2017.89,.025,-.024],
[2017.96,.022,-.027],[2018.03,.019,-.030],[2018.10,.013,-.034],[2018.17,.008,-.037],[2018.24,.005,-.039],[2018.31,.003,-.039],
[2018.38,.002,-.039],[2018.45,.000,-.039],[2018.52,.001,-.039],[2018.59,.002,-.039],[2018.66,.003,-.039],[2018.73,.004,-.039],
[2018.80,.004,-.039],[2018.87,.002,-.040],[2018.94,.001,-.041],[2019.01,.000,-.042],[2019.08,-.002,-.043],[2019.15,-.002,-.042],
[2019.22,-.001,-.041],[2019.29,.000,-.039],[2019.36,.000,-.038],[2019.43,.002,-.037],[2019.50,.006,-.036],[2019.57,.010,-.035],
[2019.64,.015,-.035],[2019.71,.018,-.034],[2019.78,.018,-.033],[2019.85,.018,-.031],[2019.92,.018,-.030],[2019.99,.018,-.028],
[2020.06,.019,-.027],[2020.13,.022,-.025],[2020.20,.025,-.023],[2020.27,.028,-.022],[2020.34,.031,-.019],[2020.41,.034,-.017],
[2020.48,.036,-.014],[2020.55,.039,-.011],[2020.62,.043,-.008],[2020.69,.046,-.003],[2020.76,.049,.002],[2020.83,.052,.007],
[2020.90,.055,.010],[2020.97,.058,.013],[2021.04,.061,.015],[2021.11,.063,.016],[2021.18,.065,.018],[2021.25,.067,.020],
[2021.32,.068,.026]
];
const p3BlueOut = [
[2015.735,.075],[2015.851,.134],[2015.882,.064],[2015.95,.067],[2016.143,.060],[2016.286,.075],[2016.715,.079],[2016.985,.080],
[2017.099,.067],[2016.795,.057],[2015.95,.034],[2015.735,.008],[2015.735,-.011],[2015.72,-.031],[2015.73,-.049],[2015.867,-.047],
[2015.95,-.140],[2015.95,-.162],[2015.95,-.167],[2015.95,-.191],[2015.95,-.215],[2015.95,-.221],[2015.95,-.227],[2015.95,-.232],
[2015.95,-.285],[2015.95,-.328],[2017.736,-.078],[2019.452,.026],[2016.302,.034],[2016.449,.036],[2016.112,.034],[2016.617,-.033],
[2016.755,-.032],[2016.948,-.021],[2016.924,.046],[2017.292,.049],[2017.49,.051],[2017.613,.044],[2017.751,.034],[2017.889,.024],
[2018.011,.020],[2018.143,.016],[2017.843,-.039],[2018.333,-.060],[2018.363,-.051],[2019.13,-.060],[2018.90,-.044],[2018.624,.024],
[2018.639,.016],[2019.022,.024],[2018.777,.011],[2019.191,.002],[2018.195,-.038],[2018.005,.165],[2020.968,.074],[2020.753,-.021],
[2020.906,-.005],[2019.926,-.047],[2019.774,-.044],[2020.095,.031],[2020.263,.021],[2020.447,-.018],[2020.799,.054],
[2016.60,.020],[2016.85,.030],[2017.20,.038],[2017.40,.040],[2017.60,.037],[2016.40,.012]
];
const p3RedRows = [
[2021.33,.021,.011,.001],[2021.36,.022,.011,.000],[2021.39,.022,.011,.000],[2021.42,.023,.012,.000],[2021.45,.023,.012,.000],
[2021.48,.024,.012,-.001],[2021.51,.024,.012,-.001],[2021.54,.025,.012,-.001],[2021.57,.025,.012,-.001],[2021.60,.025,.012,-.001],
[2021.63,.025,.013,.000],[2021.66,.025,.013,.000],[2021.69,.025,.013,.000],[2021.72,.025,.013,.001],[2021.75,.025,.013,.001],
[2021.78,.025,.013,.001],[2021.81,.025,.013,.001],[2021.84,.025,.013,.001],[2021.87,.025,.013,.001],[2021.90,.025,.013,.001],
[2021.93,.025,.013,.000],[2021.96,.025,.012,.000],[2021.99,.025,.012,.000],[2022.02,.025,.012,.000],[2022.05,.025,.012,-.001],
[2022.08,.025,.012,-.001],[2022.11,.025,.012,-.001],[2022.14,.025,.012,-.001],[2022.17,.026,.013,.000],[2022.20,.027,.015,.002],
[2022.23,.029,.016,.003],[2022.26,.030,.018,.005],[2022.29,.032,.019,.006],[2022.32,.034,.021,.007],[2022.35,.035,.022,.009],
[2022.38,.037,.024,.010],[2022.41,.038,.025,.011],[2022.44,.036,.023,.010],[2022.47,.035,.022,.009],[2022.50,.034,.021,.007],
[2022.53,.032,.019,.006],[2022.56,.031,.018,.004],[2022.59,.030,.016,.003],[2022.62,.028,.015,.001],[2022.65,.026,.013,.000],
[2022.68,.024,.012,-.001],[2022.71,.022,.010,-.002],[2022.74,.020,.009,-.003],[2022.77,.019,.008,-.004],[2022.80,.017,.006,-.005],
[2022.83,.015,.005,-.007],[2022.86,.013,.003,-.008],[2022.89,.011,.001,-.009],[2022.92,.009,.000,-.010],[2022.95,.008,-.003,-.013],
[2022.98,.006,-.005,-.016],[2023.00,.004,-.007,-.018],[2023.02,.003,-.009,-.020],[2023.04,.002,-.010,-.021],[2023.06,.000,-.011,-.023],
[2023.08,-.001,-.013,-.025],[2023.10,-.004,-.016,-.027],[2023.12,-.007,-.018,-.030],[2023.14,-.010,-.021,-.032],[2023.16,-.013,-.024,-.034],
[2023.18,-.016,-.027,-.037],[2023.20,-.019,-.029,-.039],[2023.22,-.022,-.032,-.042],[2023.24,-.026,-.036,-.045],[2023.26,-.029,-.039,-.048],
[2023.28,-.032,-.042,-.051],[2023.30,-.035,-.045,-.054],[2023.32,-.038,-.048,-.057],[2023.34,-.042,-.051,-.061],[2023.36,-.045,-.055,-.064],
[2023.38,-.049,-.059,-.069],[2023.40,-.052,-.062,-.072],[2023.42,-.056,-.066,-.075,-.079],[2023.44,-.059,-.069,-.079,-.083],
[2023.46,-.063,-.073,-.083,-.086],[2023.48,-.066,-.076,-.086,-.090],[2023.50,-.070,-.080,-.090,-.095],[2023.52,-.074,-.084,-.094,-.099],
[2023.54,-.077,-.087,-.097,-.103],[2023.56,-.081,-.091,-.101,-.109],[2023.58,-.085,-.095,-.105,-.115],[2023.60,-.089,-.100,-.111,-.121],
[2023.62,-.093,-.104,-.115,-.126],[2023.64,-.100,-.111,-.123,-.134],[2023.66,-.108,-.120,-.132,-.144],[2023.68,-.116,-.129,-.141,-.154],
[2023.70,-.125,-.138,-.151,-.164],[2023.72,-.136,-.148,-.160,-.172],[2023.74,-.147,-.158,-.169,-.180],[2023.76,-.157,-.167,-.177,-.187],
[2023.78,-.165,-.175,-.185,-.195],[2023.80,-.174,-.183,-.192,-.201],[2023.82,-.183,-.192,-.200,-.208],[2023.84,-.191,-.199,-.207,-.215],
[2023.86,-.199,-.206,-.213,-.222],[2023.88,-.207,-.214,-.221,-.230],[2023.90,-.215,-.222,-.229,-.232]
];
const p3RedHalo = [
[2021.36,.030,-.008],[2021.43,.031,-.008],[2021.50,.032,-.009],[2021.57,.033,-.009],[2021.64,.033,-.008],[2021.71,.033,-.007],
[2021.78,.033,-.007],[2021.85,.033,-.007],[2021.92,.033,-.008],[2021.99,.033,-.008],[2022.06,.033,-.009],[2022.13,.033,-.009],
[2022.20,.035,-.006],[2022.27,.039,-.003],[2022.34,.043,.000],[2022.41,.046,.003],[2022.48,.043,.000],[2022.55,.039,-.003],
[2022.62,.036,-.007],[2022.69,.031,-.009],[2022.76,.027,-.012],[2022.83,.023,-.015],[2022.90,.018,-.018],[2022.97,.015,-.023],
[2023.04,.010,-.029],[2023.11,.002,-.037],[2023.18,-.008,-.045],[2023.25,-.019,-.055],[2023.32,-.030,-.065],[2023.39,-.042,-.078],
[2023.46,-.055,-.094],[2023.53,-.067,-.109],[2023.60,-.081,-.129],[2023.67,-.104,-.157],[2023.74,-.139,-.188]
];
const p3RedOut = [
[2022.255,-.021],[2022.699,.038],[2022.775,.031],[2022.959,-.037],[2023.174,-.067],[2023.082,-.051],[2023.542,-.067],[2023.557,-.077],
[2023.465,-.113],[2023.725,-.195],[2022.377,.041],[2022.163,.034],[2022.07,-.018],[2021.826,-.011],[2021.734,-.008],[2021.55,-.005],[2022.00,.030]
];

const BLUE = "#4f81bd", RED = "#c00000", GREEN = "#00b050";
const flat = rows => rows.flatMap(r => r.slice(1).map(v => [r[0], v]));

const panels = [
  { frame:[8,468], top:97.7, bottom:423.3, xDomain:[2015,2024.30], yDomain:[-0.22,0.18],
    xTicks:p1XTicks, xLabels:p1XLabels, yTicks:p1YTicks, yLabels:p1YLabels, cross:p1AxisCross, tickLen:8,
    legendY:46, legendSize:21.5, legendR:6, titleX:41, titleY:257,
    series:[{name:p1Names[0],data:flat(p1BlueRows).concat(flat(p1BlueHalo), p1BlueOut),color:BLUE},
            {name:p1Names[1],data:flat(p1RedRows).concat(flat(p1RedHalo), p1RedOut),color:RED},
            {name:p1Names[2],data:p1Green,color:GREEN}] },
  { frame:[477,938], top:570.5, bottom:876, xDomain:[2014.95,2024.53], yDomain:[-0.25,0.35],
    xTicks:p2XTicks, xLabels:p2XLabels, yTicks:p2YTicks, yLabels:p2YLabels, cross:p2AxisCross, tickLen:0,
    legendY:517, legendSize:24, legendR:6.8, titleX:57, titleY:744,
    series:[{name:p2Names[0],data:flat(p2BlueRows).concat(flat(p2BlueHalo), p2BlueOut),color:BLUE},
            {name:p2Names[1],data:flat(p2RedRows).concat(flat(p2RedHalo), p2RedOut),color:RED}] },
  { frame:[947,1420], top:1040, bottom:1346, xDomain:[2015.30,2024.60], yDomain:[-0.35,0.25],
    xTicks:p3XTicks, xLabels:p3XLabels, yTicks:p3YTicks, yLabels:p3YLabels, cross:p3AxisCross, tickLen:7,
    legendY:986, legendSize:24, legendR:6.8, titleX:56, titleY:1213,
    series:[{name:p3Names[0],data:flat(p3BlueRows).concat(flat(p3BlueHalo), p3BlueOut),color:BLUE},
            {name:p3Names[1],data:flat(p3RedRows).concat(flat(p3RedHalo), p3RedOut),color:RED}] }
];

const svg = d3.select("#c");
const L = 150, R = 1160;

panels.forEach(p => {
  const g = svg.append("g");
  g.append("rect").attr("x", 7.5).attr("y", p.frame[0]).attr("width", 1220).attr("height", p.frame[1]-p.frame[0])
    .attr("fill", "none").attr("stroke", "#d9d9d9").attr("stroke-width", 1.5);

  const x = d3.scaleLinear().domain(p.xDomain).range([L, R]);
  const y = d3.scaleLinear().domain(p.yDomain).range([p.bottom, p.top]);

  g.append("g").selectAll("line").data(p.yTicks).join("line")
    .attr("x1", L).attr("x2", R).attr("y1", d => y(d)).attr("y2", d => y(d))
    .attr("stroke", "#d9d9d9").attr("stroke-width", 1.5);
  g.append("line").attr("x1", L).attr("x2", L).attr("y1", p.top).attr("y2", p.bottom)
    .attr("stroke", "#d9d9d9").attr("stroke-width", 1.5);

  const ya = d3.axisLeft(y).tickValues(p.yTicks).tickFormat((d,i) => p.yLabels[i]).tickSize(0).tickPadding(24);
  const yg = g.append("g").attr("transform", `translate(${L},0)`).call(ya);
  yg.select(".domain").remove();
  yg.attr("font-family", FONT).attr("font-size", 21);
  yg.selectAll("text").attr("fill", "#595959");

  const xa = d3.axisBottom(x).tickValues(p.xTicks).tickFormat((d,i) => p.xLabels[i]).tickSize(p.tickLen).tickSizeOuter(0);
  const xg = g.append("g").attr("transform", `translate(0,${y(p.cross)})`).call(xa);
  xg.attr("font-family", FONT).attr("font-size", 21);
  xg.select(".domain").attr("stroke", "#bfbfbf").attr("stroke-width", 1.5);
  xg.selectAll(".tick line").attr("stroke", "#bfbfbf").attr("stroke-width", 1.5);
  xg.selectAll("text").attr("fill", "#595959").attr("y", 23);

  p.series.forEach(s => {
    g.append("g").selectAll("circle").data(s.data).join("circle")
      .attr("cx", d => x(d[0])).attr("cy", d => y(d[1])).attr("r", 5.9)
      .attr("fill", "none").attr("stroke", s.color).attr("stroke-width", 1.7);
  });

  const lg = g.append("g");
  const items = p.series.map(s => {
    const it = lg.append("g");
    it.append("circle").attr("r", p.legendR).attr("fill", "none").attr("stroke", s.color).attr("stroke-width", 1.8);
    const t = it.append("text").attr("x", p.legendR + 7).attr("dy", "0.35em").text(s.name)
      .attr("font-family", FONT).attr("font-weight", "bold").attr("font-size", p.legendSize).attr("fill", "#595959");
    return { it, w: p.legendR + 7 + t.node().getComputedTextLength() };
  });
  const gap = 53;
  const total = p.legendR + d3.sum(items, d => d.w) + gap * (items.length - 1);
  let cx = 615 - total / 2 + p.legendR;
  items.forEach(d => { d.it.attr("transform", `translate(${cx},${p.legendY})`); cx += d.w + gap; });

  g.append("text").attr("transform", `translate(${p.titleX},${p.titleY}) rotate(-90)`)
    .attr("text-anchor", "middle").attr("dy", "0.35em").style("white-space", "pre")
    .attr("font-family", FONT).attr("font-weight", "bold").attr("font-size", 22.5).attr("fill", "#595959")
    .text(yTitle);
});
</script>
</body></html>
